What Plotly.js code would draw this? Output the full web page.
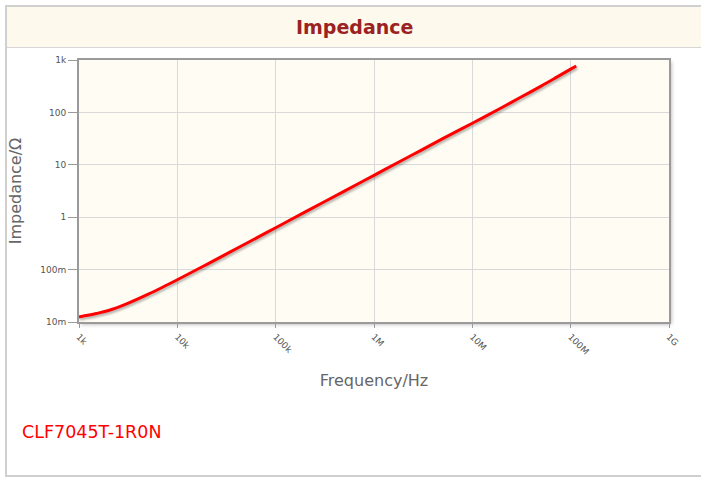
<!DOCTYPE html>
<html>
<head>
<meta charset="utf-8">
<script src="https://cdn.plot.ly/plotly-3.0.1.min.js"></script>
<style>
  html, body { margin:0; padding:0; background:#fff; }
  #frame { position:absolute; left:5px; top:5px; width:696px; height:472px; box-sizing:border-box;
           border-left:2px solid #d0d0d0; border-top:2px solid #d0d0d0; border-bottom:2px solid #d0d0d0; }
  #titlebar { position:absolute; left:7px; top:7px; width:694px; height:40px; background:#fdf9ec;
              border-bottom:1px solid #d6d6d6; }
  #chart { position:absolute; left:0; top:0; width:701px; height:477px; }
  .bglayer rect.bg { filter: drop-shadow(2px 2px 2px rgba(0,0,0,0.35)); }
  .scatterlayer .js-line { filter: drop-shadow(1px 2px 1px rgba(0,0,0,0.3)); }
</style>
</head>
<body>
<div id="frame"></div>
<div id="titlebar"></div>
<div id="chart"></div>
<script>
// Data
const frequencyHz = [1e3, 1.5e3, 2e3, 3e3, 5e3, 7e3, 1e4, 2e4, 5e4, 1e5, 2e5, 5e5, 1e6, 2e6, 3e6, 5e6, 1e7, 2e7, 3e7, 5e7, 7e7, 1e8, 1.14e8];
const impedanceOhm = [0.0125, 0.0145, 0.0166, 0.0219, 0.0336, 0.0456, 0.064, 0.126, 0.315, 0.63, 1.26, 3.15, 6.3, 12.6, 18.9, 31.5, 62, 124, 188, 318, 455, 670, 770];

const xTickVals = [1e3, 1e4, 1e5, 1e6, 1e7, 1e8, 1e9];
const xTickText = ["1k", "10k", "100k", "1M", "10M", "100M", "1G"];
const yTickVals = [0.01, 0.1, 1, 10, 100, 1000];
const yTickText = ["10m", "100m", "1", "10", "100", "1k"];

const chartTitle = "Impedance";
const xTitle = "Frequency/Hz";
const yTitle = "Impedance/Ω";
const partName = "CLF7045T-1R0N";

const font = "DejaVu Sans, Verdana, sans-serif";

const trace = {
  x: frequencyHz,
  y: impedanceOhm,
  type: "scatter",
  mode: "lines",
  line: { color: "#ff0000", width: 3, shape: "spline", smoothing: 1 },
  hoverinfo: "skip",
  showlegend: false
};

const axisCommon = {
  type: "log",
  showgrid: true,
  gridcolor: "#d9d9d9",
  gridwidth: 1,
  showline: true,
  mirror: true,
  linecolor: "#9a9a9a",
  linewidth: 2,
  ticks: "outside",
  tickcolor: "#9a9a9a",
  zeroline: false,
  tickfont: { family: font, size: 9, color: "#555" }
};

const layout = {
  width: 701,
  height: 477,
  margin: { l: 79, r: 32, t: 60, b: 155 },
  paper_bgcolor: "rgba(0,0,0,0)",
  plot_bgcolor: "#fffcf3",
  title: {
    text: "<b>" + chartTitle + "</b>",
    font: { family: font, size: 19, color: "#9b2222" },
    xref: "container", x: 0.506, xanchor: "center",
    yref: "container", y: 1 - 27 / 477, yanchor: "middle"
  },
  xaxis: Object.assign({}, axisCommon, {
    range: [3, 9],
    tickvals: xTickVals,
    ticktext: xTickText,
    ticklen: 4,
    tickangle: 45,
    title: { text: xTitle, font: { family: font, size: 16, color: "#666" }, standoff: 19 }
  }),
  yaxis: Object.assign({}, axisCommon, {
    range: [-2, 3],
    tickvals: yTickVals,
    ticktext: yTickText,
    ticklen: 9,
    title: { text: yTitle, font: { family: font, size: 16, color: "#666" }, standoff: 15 }
  }),
  annotations: [{
    text: partName,
    xref: "paper", x: (20 - 79) / 590, xanchor: "left",
    yref: "paper", y: (322 - 432) / 262, yanchor: "middle",
    showarrow: false,
    font: { family: font, size: 17.5, color: "#ff0000" }
  }]
};

Plotly.newPlot("chart", [trace], layout, { displayModeBar: false, staticPlot: true });
</script>
</body>
</html>
